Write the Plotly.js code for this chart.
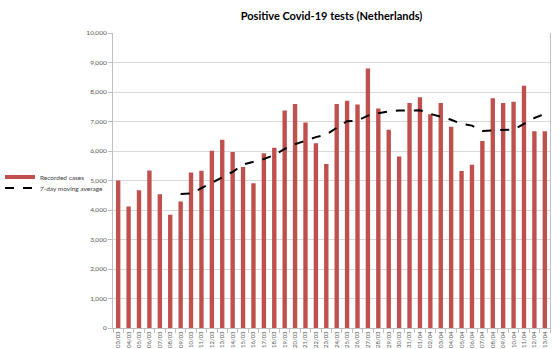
<!DOCTYPE html>
<html>
<head>
<meta charset="utf-8">
<script src="https://cdn.plot.ly/plotly-3.0.1.min.js"></script>
<style>html,body{margin:0;padding:0;background:#fff;}#chart{width:560px;height:349px;}</style>
</head>
<body>
<div id="chart"></div>
<script>
const dates = ["03/03","04/03","05/03","06/03","07/03","08/03","09/03","10/03","11/03","12/03","13/03","14/03","15/03","16/03","17/03","18/03","19/03","20/03","21/03","22/03","23/03","24/03","25/03","26/03","27/03","28/03","29/03","30/03","31/03","01/04","02/04","03/04","04/04","05/04","06/04","07/04","08/04","09/04","10/04","11/04","12/04","13/04"];
const recordedCases = [5000,4120,4670,5340,4530,3840,4290,5270,5330,6010,6380,5970,5460,4910,5920,6110,7370,7590,6970,6260,5560,7590,7700,7580,8800,7440,6720,5810,7630,7820,7250,7630,6820,5320,5530,6340,7790,7630,7670,8210,6670,6670];
const movingAverage = [null,null,null,null,null,null,4540,4560,4740,4920,5100,5290,5540,5640,5730,5860,6070,6230,6360,6470,6560,6780,7010,7030,7200,7280,7340,7370,7380,7380,7260,7150,7060,6920,6860,6680,6690,6720,6730,6920,7120,7260];

const font = "Lato, 'Open Sans', sans-serif";
const traces = [
  {type:"bar", x:dates, y:recordedCases, name:"Recorded cases", marker:{color:"#c0504d"}, width:0.42, showlegend:false},
  {type:"scatter", mode:"lines", x:[dates[0]], y:[null], name:"Recorded cases", line:{color:"#c0504d", width:4}, legend:"legend", hoverinfo:"skip"},
  {type:"scatter", mode:"lines", x:dates, y:movingAverage, name:"7-day moving average", line:{color:"#000", width:2, dash:"dash"}, connectgaps:false, legend:"legend2"}
];
const legendBase = {xref:"container", yref:"container", xanchor:"left", yanchor:"middle", font:{size:6.5, color:"#404040"}, bgcolor:"rgba(0,0,0,0)", itemwidth:30, borderwidth:0};
const layout = {
  width:560, height:349,
  margin:{l:113, r:10, t:33, b:21},
  paper_bgcolor:"#fff", plot_bgcolor:"#fff",
  font:{family:font, color:"#595959", size:7},
  title:{text:"<b>Positive Covid-19 tests (Netherlands)</b>", font:{family:font, size:11, color:"#000"}, x:0.5, xref:"paper", y:1-16/349, yref:"container", yanchor:"middle"},
  showlegend:true,
  legend:Object.assign({}, legendBase, {x:0, y:1-177/349}),
  legend2:Object.assign({}, legendBase, {x:0, y:1-188/349}),
  xaxis:{type:"category", tickangle:-90, tickfont:{size:6, color:"#595959"}, showline:true, linecolor:"#bfbfbf", linewidth:1, ticks:"outside", tickson:"boundaries", ticklen:4, tickcolor:"#bfbfbf", showgrid:false, fixedrange:true},
  yaxis:{range:[0,10000], dtick:1000, tickformat:",", tickfont:{size:6.5, color:"#595959"}, showline:true, linecolor:"#bfbfbf", linewidth:1, mirror:true, ticks:"outside", ticklen:4, tickcolor:"#bfbfbf", showgrid:true, gridcolor:"#d9d9d9", gridwidth:1, zeroline:false}
};
Plotly.newPlot("chart", traces, layout, {displayModeBar:false, staticPlot:true});
</script>
</body>
</html>
